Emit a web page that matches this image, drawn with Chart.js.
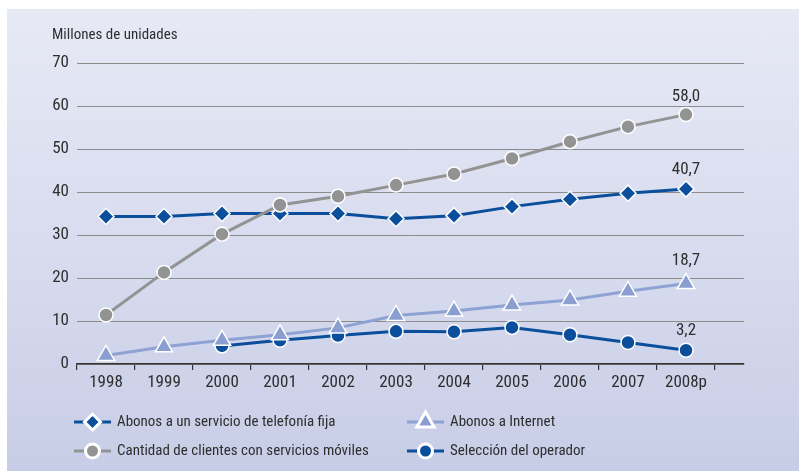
<!DOCTYPE html>
<html>
<head>
<meta charset="utf-8">
<script src="https://cdn.jsdelivr.net/npm/chart.js@4/dist/chart.umd.min.js"></script>
<style>
    html, body { margin: 0; padding: 0; background: #fff; }
    #panel {
        position: absolute; left: 7px; top: 9px; width: 792px; height: 462px;
        background: linear-gradient(180deg, #e7e9f5 0%, #d7dbee 55%, #c8cde7 100%);
    }
    #chart { display: block; }
</style>
</head>
<body>
<div id="panel"><canvas id="chart" width="792" height="462"></canvas></div>
<script>
// ============================================================
//  Data
// ============================================================
const years = ['1998', '1999', '2000', '2001', '2002', '2003', '2004', '2005', '2006', '2007', '2008p'];

const fijaValues      = [34.3, 34.3, 35.0, 35.0, 35.0, 33.8, 34.5, 36.6, 38.3, 39.7, 40.7];
const movilesValues   = [11.4, 21.3, 30.2, 37.0, 39.0, 41.6, 44.2, 47.8, 51.7, 55.2, 58.0];
const internetValues  = [2.0, 4.0, 5.5, 6.8, 8.4, 11.3, 12.3, 13.7, 14.9, 16.9, 18.7];
const operadorValues  = [null, null, 4.2, 5.5, 6.6, 7.6, 7.5, 8.5, 6.8, 5.0, 3.2];

const yTicks = [0, 10, 20, 30, 40, 50, 60, 70];

const FONT = "'Roboto Condensed', 'DejaVu Sans Condensed', sans-serif";
const TEXT = '#2e2e2e';
const BLUE = '#0b4f9c';
const GREY = '#939393';
const LIGHT = '#8ea2d3';

const toPoints = (arr) => arr.map((v, i) => ({ x: i, y: v }));

const fmt = (v) => v.toFixed(1).replace('.', ',');

// ============================================================
//  Plugins: end labels + two-column legend
// ============================================================
const endLabels = {
    id: 'endLabels',
    afterDatasetsDraw(chart) {
        const ctx = chart.ctx;
        ctx.save();
        ctx.font = '17px ' + FONT;
        ctx.fillStyle = TEXT;
        ctx.textAlign = 'center';
        ctx.textBaseline = 'middle';
        chart.data.datasets.forEach((ds, i) => {
            const meta = chart.getDatasetMeta(i);
            const el = meta.data[meta.data.length - 1];
            const v = ds.data[ds.data.length - 1].y;
            ctx.fillText(fmt(v), el.x, el.y - ds.pointRadius - ds.labelGap);
        });
        ctx.restore();
    }
};

const gridLegend = {
    id: 'gridLegend',
    afterDraw(chart) {
        const ctx = chart.ctx;
        const left = chart.chartArea.left;
        const cols = [left - 3, left + 330];
        const rows = [413, 442];
        ctx.save();
        chart.data.datasets.forEach((ds) => {
            const x0 = cols[ds.legendCol];
            const y = rows[ds.legendRow];
            ctx.strokeStyle = ds.borderColor;
            ctx.lineWidth = 3;
            ctx.beginPath();
            ctx.moveTo(x0, y);
            ctx.lineTo(x0 + 37, y);
            ctx.stroke();
            ctx.fillStyle = ds.pointBackgroundColor;
            ctx.strokeStyle = '#ffffff';
            Chart.helpers.drawPoint(ctx, {
                pointStyle: ds.pointStyle,
                radius: ds.pointRadius,
                rotation: 0,
                borderWidth: 1.5
            }, x0 + 18.5, y);
            ctx.fillStyle = TEXT;
            ctx.font = '15px ' + FONT;
            ctx.textAlign = 'left';
            ctx.textBaseline = 'middle';
            ctx.fillText(ds.label, x0 + 43, y);
        });
        ctx.restore();
    }
};

// ============================================================
//  Chart
// ============================================================
const lineDs = (label, values, color, pointColor, style, radius, col, row, gap) => ({
    label,
    data: toPoints(values),
    borderColor: color,
    borderWidth: 3,
    pointStyle: style,
    pointRadius: radius,
    pointBackgroundColor: pointColor,
    pointBorderColor: '#ffffff',
    pointBorderWidth: 1.5,
    tension: 0,
    legendCol: col,
    legendRow: row,
    labelGap: gap
});

new Chart(document.getElementById('chart'), {
    type: 'line',
    data: {
        datasets: [
            lineDs('Abonos a Internet', internetValues, LIGHT, '#8a9ed1', 'triangle', 10, 1, 0, 13),
            lineDs('Cantidad de clientes con servicios móviles', movilesValues, GREY, '#939393', 'circle', 7, 0, 1, 11),
            lineDs('Selección del operador', operadorValues, BLUE, BLUE, 'circle', 7, 1, 1, 12),
            lineDs('Abonos a un servicio de telefonía fija', fijaValues, BLUE, BLUE, 'rectRot', 8, 0, 0, 11)
        ]
    },
    options: {
        responsive: false,
        animation: false,
        layout: { padding: { left: 45, right: 55, top: 0, bottom: 77 } },
        plugins: {
            legend: { display: false },
            tooltip: { enabled: false },
            title: {
                display: true,
                text: 'Millones de unidades',
                align: 'start',
                color: TEXT,
                font: { family: FONT, size: 15, weight: 'normal', lineHeight: 1.2 },
                padding: { top: 17, bottom: 19 }
            }
        },
        scales: {
            x: {
                type: 'linear',
                min: -0.5,
                max: 11,
                afterBuildTicks: (s) => { s.ticks = years.concat(['']).map((_, i) => ({ value: i - 0.5 })); },
                afterFit: (s) => { s.height = 30; },
                border: { display: true, color: '#333333', width: 1.5 },
                grid: { drawOnChartArea: false, drawTicks: true, tickLength: 6, color: '#333333', lineWidth: 1.2 },
                ticks: {
                    autoSkip: false,
                    maxRotation: 0,
                    padding: 3,
                    labelOffset: 29,
                    color: TEXT,
                    font: { family: FONT, size: 17 },
                    callback: (v, i) => years[i] || ''
                }
            },
            y: {
                min: 0,
                max: 70,
                afterBuildTicks: (s) => { s.ticks = yTicks.map((v) => ({ value: v })); },
                afterFit: (s) => { s.width = 25; },
                border: { display: false },
                grid: { color: '#8c8c8c', lineWidth: 1, drawTicks: false },
                ticks: {
                    padding: 8,
                    color: TEXT,
                    font: { family: FONT, size: 17 }
                }
            }
        }
    },
    plugins: [endLabels, gridLegend]
});
</script>
</body>
</html>
